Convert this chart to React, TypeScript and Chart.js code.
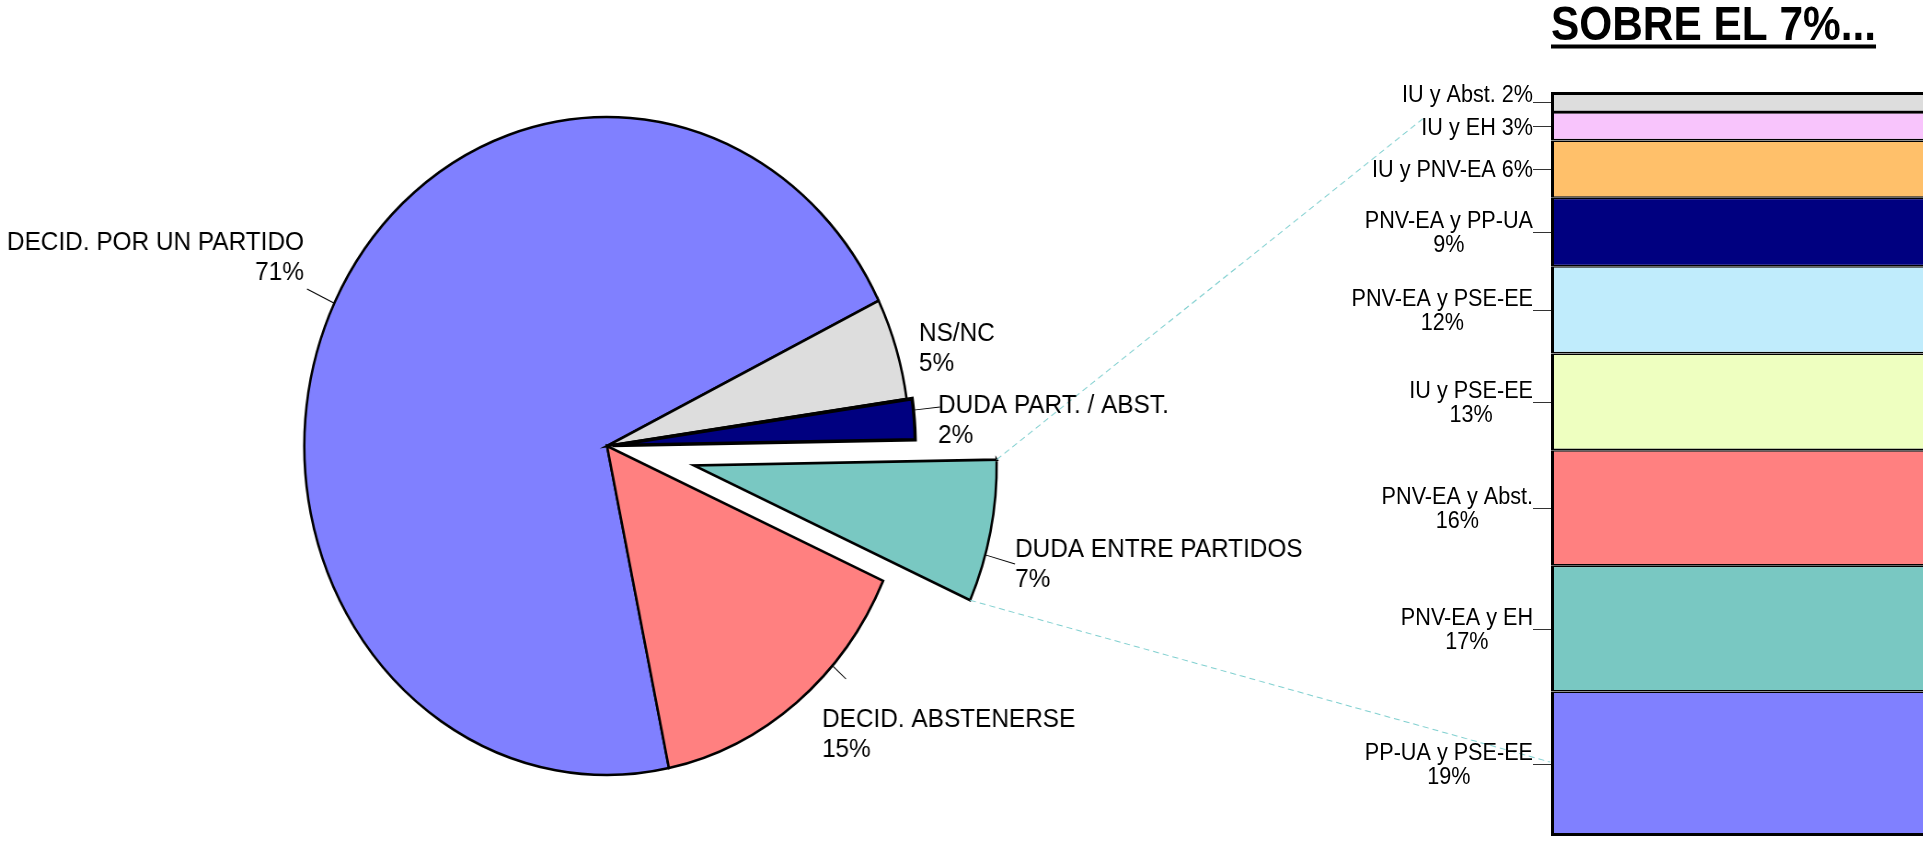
import React, { useEffect, useRef } from 'react';
import { Chart, registerables } from 'chart.js';

Chart.register(...registerables);

// ---------------- DATA ----------------
const PIE_LABELS = ['DECID. POR UN PARTIDO', 'NS/NC', 'DUDA PART. / ABST.', 'DUDA ENTRE PARTIDOS', 'DECID. ABSTENERSE'];
const PIE_VALUES = [71, 5, 2, 7, 15];
const PIE_COLORS = ['#8080FF', '#DDDDDD', '#000080', '#79C8C2', '#FF8080'];

const BAR_LABELS = ['PP-UA y PSE-EE', 'PNV-EA y EH', 'PNV-EA y Abst.', 'IU y PSE-EE', 'PNV-EA y PSE-EE', 'PNV-EA y PP-UA', 'IU y PNV-EA', 'IU y EH', 'IU y Abst.'];
const BAR_VALUES = [19.4, 16.9, 15.5, 13.0, 11.7, 9.2, 7.7, 3.8, 2.7];
const BAR_PCT_TEXT = ['19%', '17%', '16%', '13%', '12%', '9%', '6%', '3%', '2%'];
const BAR_COLORS = ['#8080FF', '#79C8C2', '#FF8080', '#EEFFC0', '#C0ECFC', '#000080', '#FFC06A', '#F8C4FC', '#DDDDDD'];

const TITLE = 'SOBRE EL 7%...';

// ---------------- LAYOUT / STYLE ----------------
const W = 1923;
const H = 842;
const PIE_INTERNAL_W = 2090; // pie canvas is drawn wider, then squeezed to W (elliptical pie)
const SX = W / PIE_INTERNAL_W;
const TEXT_SX = 0.92; // text in the original is slightly stretched vertically
const PIE_RADIUS = 329;
const PIE_CX = 607; // display px
const PIE_CY = 446;
const PIE_ROTATION = 168.2;
const PIE_EXPLODE = [0, 0, 6, 96.5, 0];
const PIE_BORDER = [2.6, 2.6, 3.6, 2.6, 2.6];
const EXPLODED = 3;
const FONT = '"Liberation Sans", Arial, Helvetica, sans-serif';
const PIE_FONT_PX = 26.5;
const BAR_FONT_PX = 23.5;
const TITLE_FONT_PX = 49;
const TITLE_SX = 0.865;

// label text position (display px), alignment and leader-line outer end
const PIE_LABEL_POS: any[] = [
  { x: 304, y: 250, align: 'right', leader: [307, 289] },
  { x: 919, y: 341, align: 'left', leader: null },
  { x: 938, y: 413, align: 'left', leader: [940, 407] },
  { x: 1015, y: 557, align: 'left', leader: [1015, 564] },
  { x: 822, y: 727, align: 'left', leader: [846, 679] },
];
const CONNECTOR_ENDS = [[1425, 117], [1550, 762]];

const BAR_CANVAS_LEFT = 1300;
const BAR_CANVAS_W = W - BAR_CANVAS_LEFT;
const BAR_LEFT = 1551 - BAR_CANVAS_LEFT;
const BAR_TOP = 92;
const BAR_BOTTOM = 836;
const BAR_TEXT_DY = [0, 0, 0, 0, 0, 0, 0, 0, -8];

function drawText(ctx: any, text: string, x: number, y: number, align: string, sx: number) {
  ctx.save();
  ctx.translate(x, y);
  ctx.scale(sx, 1);
  ctx.textAlign = align;
  ctx.textBaseline = 'alphabetic';
  ctx.fillText(text, 0, 0);
  ctx.restore();
}

const explodePlugin = {
  id: 'explodeSlices',
  afterDatasetUpdate(chart: any, args: any) {
    const meta = args.meta;
    meta.data.forEach((arc: any, i: number) => {
      const d = PIE_EXPLODE[i] || 0;
      if (!d) return;
      const mid = (arc.startAngle + arc.endAngle) / 2;
      arc.x += Math.cos(mid) * d;
      arc.y += Math.sin(mid) * d;
    });
  },
};

const pieLabelPlugin = {
  id: 'pieLabels',
  afterDraw(chart: any) {
    const ctx = chart.ctx;
    const arcs = chart.getDatasetMeta(0).data;
    ctx.save();
    ctx.scale(1 / SX, 1); // from here on: display coordinates

    // connector (series) lines from the exploded slice
    const t = arcs[EXPLODED];
    const corner = (ang: number) => [
      (t.x + Math.cos(ang) * t.outerRadius) * SX,
      t.y + Math.sin(ang) * t.outerRadius,
    ];
    const starts = [corner(t.startAngle), corner(t.endAngle)];
    ctx.strokeStyle = '#7FCFCF';
    ctx.lineWidth = 1;
    ctx.setLineDash([6, 4]);
    starts.forEach((s, k) => {
      ctx.beginPath();
      ctx.moveTo(s[0], s[1]);
      ctx.lineTo(CONNECTOR_ENDS[k][0], CONNECTOR_ENDS[k][1]);
      ctx.stroke();
    });
    ctx.setLineDash([]);

    // labels
    ctx.font = `${PIE_FONT_PX}px ${FONT}`;
    ctx.fillStyle = '#000';
    PIE_LABELS.forEach((name, i) => {
      const p = PIE_LABEL_POS[i];
      const arc = arcs[i];
      drawText(ctx, name, p.x, p.y, p.align, TEXT_SX);
      drawText(ctx, `${PIE_VALUES[i]}%`, p.x, p.y + 30, p.align, TEXT_SX);
      if (p.leader) {
        const cx = arc.x * SX;
        const cy = arc.y;
        const ang = Math.atan2(p.leader[1] - cy, (p.leader[0] - cx) / SX);
        const ex = cx + Math.cos(ang) * arc.outerRadius * SX;
        const ey = cy + Math.sin(ang) * arc.outerRadius;
        ctx.strokeStyle = '#000';
        ctx.lineWidth = 1;
        ctx.beginPath();
        ctx.moveTo(ex, ey);
        ctx.lineTo(p.leader[0], p.leader[1]);
        ctx.stroke();
      }
    });
    ctx.restore();
  },
};

const barLabelPlugin = {
  id: 'barLabels',
  afterDraw(chart: any) {
    const ctx = chart.ctx;
    ctx.save();
    // title
    ctx.font = `bold ${TITLE_FONT_PX}px ${FONT}`;
    ctx.fillStyle = '#000';
    const tx = chart.chartArea.left;
    drawText(ctx, TITLE, tx, 40, 'left', TITLE_SX);
    const tw = ctx.measureText(TITLE).width * TITLE_SX;
    ctx.fillRect(tx, 44.5, tw, 4);

    // segment labels
    ctx.font = `${BAR_FONT_PX}px ${FONT}`;
    const capH = 0.716 * BAR_FONT_PX;
    BAR_LABELS.forEach((name, i) => {
      const el = chart.getDatasetMeta(i).data[0];
      if (!el) return;
      const top = Math.min(el.y, el.base);
      const bottom = Math.max(el.y, el.base);
      const mid = (top + bottom) / 2;
      const left = el.x - el.width / 2;
      const right = left - 18;
      ctx.strokeStyle = '#333';
      ctx.lineWidth = 1;
      ctx.beginPath();
      ctx.moveTo(right, Math.round(mid) + 0.5);
      ctx.lineTo(left, Math.round(mid) + 0.5);
      ctx.stroke();
      const dy = BAR_TEXT_DY[i] || 0;
      if (bottom - top < 60) {
        drawText(ctx, `${name} ${BAR_PCT_TEXT[i]}`, right, mid + capH / 2 + dy, 'right', TEXT_SX);
      } else {
        const w1 = ctx.measureText(name).width * TEXT_SX;
        const w2 = ctx.measureText(BAR_PCT_TEXT[i]).width * TEXT_SX;
        const bw = Math.max(w1, w2);
        const c = right - bw / 2;
        drawText(ctx, name, c, mid - 12 + capH / 2 + dy, 'center', TEXT_SX);
        drawText(ctx, BAR_PCT_TEXT[i], c, mid + 12 + capH / 2 + dy, 'center', TEXT_SX);
      }
    });
    ctx.restore();
  },
};

export default function App() {
  const pieRef = useRef<HTMLCanvasElement | null>(null);
  const barRef = useRef<HTMLCanvasElement | null>(null);

  useEffect(() => {
    const cxInt = PIE_CX / SX;
    const pie = new Chart(pieRef.current as HTMLCanvasElement, {
      type: 'pie',
      data: {
        labels: PIE_LABELS,
        datasets: [
          {
            data: PIE_VALUES,
            backgroundColor: PIE_COLORS,
            borderColor: '#000000',
            borderWidth: PIE_BORDER,
            borderJoinStyle: 'miter',
            radius: PIE_RADIUS,
            rotation: PIE_ROTATION,
          } as any,
        ],
      },
      options: {
        responsive: false,
        animation: false,
        devicePixelRatio: 1,
        events: [],
        layout: {
          padding: { left: 0, right: PIE_INTERNAL_W - 2 * cxInt, top: 2 * PIE_CY - H, bottom: 0 },
        },
        plugins: { legend: { display: false }, tooltip: { enabled: false } },
      } as any,
      plugins: [explodePlugin, pieLabelPlugin],
    });

    const n = BAR_VALUES.length;
    const total = BAR_VALUES.reduce((a, b) => a + b, 0);
    const bar = new Chart(barRef.current as HTMLCanvasElement, {
      type: 'bar',
      data: {
        labels: [''],
        datasets: BAR_VALUES.map((v, i) => ({
          label: BAR_LABELS[i],
          data: [v],
          backgroundColor: BAR_COLORS[i],
          borderColor: '#000000',
          borderWidth: { left: 3, right: 0, top: i === n - 1 ? 3 : 1.6, bottom: i === 0 ? 3 : 1.6 },
          borderSkipped: false,
          barPercentage: 1,
          categoryPercentage: 1,
          inflateAmount: 0,
        })) as any,
      },
      options: {
        responsive: false,
        animation: false,
        devicePixelRatio: 1,
        events: [],
        layout: { padding: { left: BAR_LEFT, right: 0, top: BAR_TOP, bottom: H - BAR_BOTTOM } },
        scales: {
          x: { stacked: true, display: false },
          y: { stacked: true, display: false, min: 0, max: total },
        },
        plugins: { legend: { display: false }, tooltip: { enabled: false } },
      } as any,
      plugins: [barLabelPlugin],
    });

    return () => {
      pie.destroy();
      bar.destroy();
    };
  }, []);

  return (
    <div style={{ position: 'fixed', left: 0, top: 0, width: W, height: H, background: '#ffffff', overflow: 'hidden' }}>
      <canvas
        ref={pieRef}
        width={PIE_INTERNAL_W}
        height={H}
        style={{ position: 'absolute', left: 0, top: 0, width: `${W}px`, height: `${H}px` }}
      />
      <canvas
        ref={barRef}
        width={BAR_CANVAS_W}
        height={H}
        style={{ position: 'absolute', left: BAR_CANVAS_LEFT, top: 0, width: `${BAR_CANVAS_W}px`, height: `${H}px` }}
      />
    </div>
  );
}
